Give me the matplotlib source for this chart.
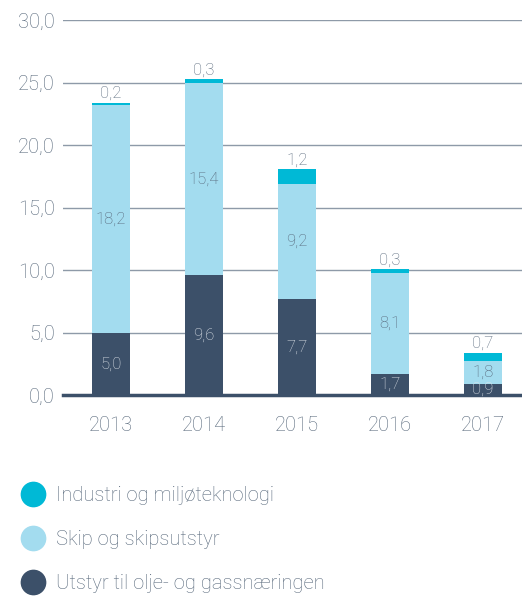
import matplotlib
matplotlib.use("Agg")
import matplotlib.pyplot as plt
from matplotlib.lines import Line2D
from matplotlib.ticker import FuncFormatter

years = ["2013", "2014", "2015", "2016", "2017"]
olje_gass = [5.0, 9.6, 7.7, 1.7, 0.9]
skip = [18.2, 15.4, 9.2, 8.1, 1.8]
industri = [0.2, 0.3, 1.2, 0.3, 0.7]

series_names = ["Industri og miljøteknologi", "Skip og skipsutstyr",
                "Utstyr til olje- og gassnæringen"]

c_dark = "#3c5069"
c_light = "#a3dcef"
c_cyan = "#00b9d6"
c_text = "#56677a"
c_grid = "#8e9aa8"

plt.rcParams["font.family"] = ["Roboto", "DejaVu Sans"]
plt.rcParams["font.weight"] = "light"


def fmt(v):
    return "{:.1f}".format(v).replace(".", ",")


fig = plt.figure(figsize=(5.22, 5.97), dpi=100)
ax = fig.add_axes([63 / 522, 202 / 597, 1 - 63 / 522, 375 / 597])

x = list(range(len(years)))
w = 0.41
bottom2 = [a + b for a, b in zip(olje_gass, skip)]
ax.bar(x, olje_gass, w, color=c_dark, zorder=3)
ax.bar(x, skip, w, bottom=olje_gass, color=c_light, zorder=3)
ax.bar(x, industri, w, bottom=bottom2, color=c_cyan, zorder=3)

for i in x:
    ax.text(i, olje_gass[i] / 2, fmt(olje_gass[i]), ha="center", va="center",
            color="#dfe4ea", fontsize=12, zorder=6)
    ax.text(i, olje_gass[i] + skip[i] / 2, fmt(skip[i]), ha="center",
            va="center", color=c_text, fontsize=12, zorder=6)
    ax.annotate(fmt(industri[i]), (i, bottom2[i] + industri[i]),
                xytext=(0, 1), textcoords="offset points", ha="center",
                va="bottom", color=c_text, fontsize=12, zorder=6)

ax.set_ylim(0, 30)
ax.set_xlim(-0.516, 4.42)
ax.set_yticks([0, 5, 10, 15, 20, 25, 30])
ax.yaxis.set_major_formatter(FuncFormatter(lambda v, p: fmt(v)))
ax.set_xticks(x)
ax.set_xticklabels(years)
ax.tick_params(length=0, labelsize=14.5, labelcolor=c_text)
ax.tick_params(axis="y", pad=6)
ax.tick_params(axis="x", pad=15)
ax.grid(axis="y", color=c_grid, lw=1.0, zorder=0)
ax.axhline(0, color=c_dark, lw=2.5, zorder=5, clip_on=False)
for s in ax.spines.values():
    s.set_visible(False)

handles = [Line2D([], [], ls="", marker="o", ms=17.5, color=c)
           for c in [c_cyan, c_light, c_dark]]
fig.legend(handles, series_names, loc="upper left",
           bbox_to_anchor=(0.025, 1 - 478 / 597), frameon=False,
           fontsize=14.5, labelcolor=c_text, labelspacing=1.25,
           handletextpad=0.55, handlelength=1.2, borderaxespad=0)

fig.savefig("out.png", dpi=100)
